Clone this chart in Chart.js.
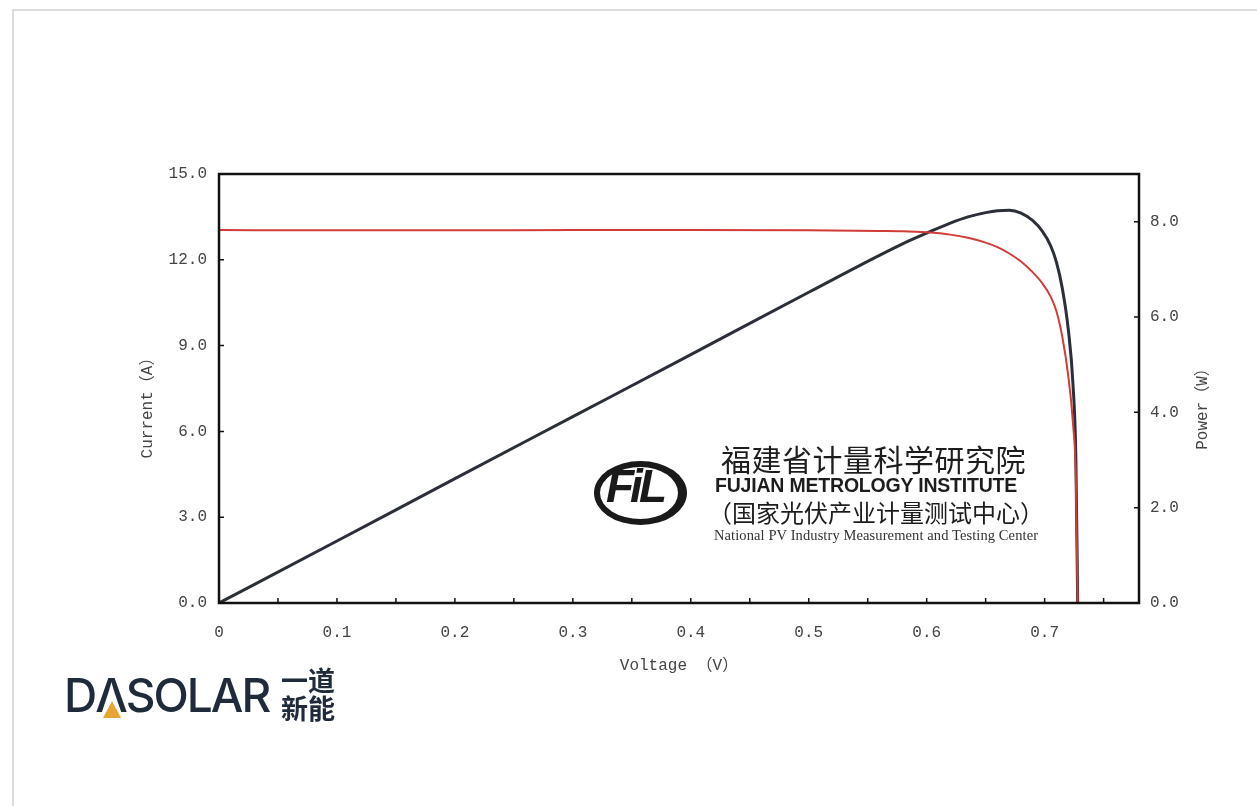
<!DOCTYPE html>
<html>
<head>
<meta charset="utf-8">
<script src="https://cdn.jsdelivr.net/npm/chart.js@4/dist/chart.umd.min.js"></script>
<style>
  body { margin: 0; background: #fff; }
  #wrap { position: relative; width: 1257px; height: 806px; overflow: hidden; }
  #frame { position: absolute; left: 12px; top: 9px; width: 1300px; height: 900px;
           border-left: 2px solid #dcdcdc; border-top: 2px solid #dcdcdc; }
  canvas { position: absolute; left: 0; top: 0; }
  .mark { position: absolute; color: #1d1d1d; white-space: nowrap; pointer-events: none; }
  #fil { position: absolute; left: 594px; top: 461px; width: 78px; height: 52px;
         border: 6px solid #1a1a1a; border-right-width: 9px; border-radius: 50%; }
  #filText { position: absolute; left: 606px; top: 459px; font: italic 900 46px "Liberation Sans", Arial, sans-serif;
             color: #1a1a1a; letter-spacing: -4px; }
  #cn1 { left: 721px; top: 436px; font: 30px "Noto Sans CJK SC"; letter-spacing: 0.5px; }
  #en1 { left: 715px; top: 474px; font: bold 19.5px "Liberation Sans", Arial, sans-serif; letter-spacing: -0.2px; }
  #cn2 { left: 708px; top: 494px; font: 24px "Noto Sans CJK SC"; }
  #en2 { left: 714px; top: 527px; font: 14.5px "Liberation Serif", serif; color: #333; letter-spacing: 0.1px; }
  #da { left: 64px; top: 667px; font: 500 46px "Inter", "Noto Sans", sans-serif; color: #1f2b3b; letter-spacing: -2px; }
  #tri { position: absolute; left: 103px; top: 701px; width: 0; height: 0;
         border-left: 9px solid transparent; border-right: 9px solid transparent; border-bottom: 17px solid #e7a534; }
  #yd { left: 281px; top: 666px; font: bold 27px "Noto Sans CJK SC"; color: #1f2b3b; line-height: 28px; }
</style>
</head>
<body>
<div id="wrap">
  <div id="frame"></div>
  <canvas id="myChart" width="1257" height="806"></canvas>
  <div id="fil"></div>
  <div id="filText" class="mark">FiL</div>
  <div id="cn1" class="mark">福建省计量科学研究院</div>
  <div id="en1" class="mark">FUJIAN METROLOGY INSTITUTE</div>
  <div id="cn2" class="mark">（国家光伏产业计量测试中心）</div>
  <div id="en2" class="mark">National PV Industry Measurement and Testing Center</div>
  <div id="da" class="mark">DΛSOLAR</div>
  <div id="tri"></div>
  <div id="yd" class="mark">一道<br>新能</div>
</div>
<script>
// I-V curve (red)
var ivVoltage = [0, 0.1, 0.2, 0.3, 0.4, 0.5, 0.56, 0.58, 0.6, 0.62, 0.635, 0.65, 0.66, 0.67, 0.68, 0.69, 0.698, 0.705, 0.71, 0.715, 0.72, 0.724, 0.7265, 0.728];
var ivCurrent = [13.04, 13.03, 13.03, 13.04, 13.04, 13.03, 13.01, 13.0, 12.96, 12.88, 12.77, 12.6, 12.44, 12.22, 11.94, 11.56, 11.18, 10.72, 10.2, 9.3, 7.95, 6.3, 4.3, 0];

// P-V curve (black)
var pvVoltage = [0, 0.1, 0.2, 0.3, 0.4, 0.5, 0.58, 0.6, 0.62, 0.635, 0.65, 0.66, 0.67, 0.68, 0.69, 0.698, 0.705, 0.71, 0.715, 0.72, 0.724, 0.7265, 0.728];
var pvPower = [0, 1.3, 2.61, 3.91, 5.21, 6.52, 7.54, 7.76, 7.97, 8.1, 8.19, 8.23, 8.24, 8.18, 8.02, 7.8, 7.5, 7.15, 6.6, 5.75, 4.6, 3.0, 0];

// tick labels
var xTicks = [0, 0.1, 0.2, 0.3, 0.4, 0.5, 0.6, 0.7];
var xTickMarks = [0.05, 0.1, 0.15, 0.2, 0.25, 0.3, 0.35, 0.4, 0.45, 0.5, 0.55, 0.6, 0.65, 0.7, 0.75];
var currentTicks = [0, 3, 6, 9, 12, 15];
var powerTicks = [0, 2, 4, 6, 8];

var mono = '"Liberation Mono", "Noto Sans CJK SC", monospace';

function toXY(xs, ys) {
  return xs.map(function (v, i) { return { x: v, y: ys[i] }; });
}

function vText(ctx, text, x, y) {
  ctx.save();
  ctx.translate(x, y);
  ctx.rotate(-Math.PI / 2);
  ctx.fillStyle = '#444';
  ctx.font = '16px ' + mono;
  ctx.textAlign = 'center';
  ctx.textBaseline = 'middle';
  ctx.fillText(text, 0, 0);
  ctx.restore();
}

var frameAndTicks = {
  id: 'frameAndTicks',
  afterDraw: function (chart) {
    var ctx = chart.ctx, a = chart.chartArea, s = chart.scales;
    ctx.save();
    ctx.strokeStyle = '#111';
    ctx.lineWidth = 1.5;
    ctx.beginPath();
    xTickMarks.forEach(function (v) {
      var px = s.x.getPixelForValue(v);
      ctx.moveTo(px, a.bottom); ctx.lineTo(px, a.bottom - 5);
    });
    currentTicks.forEach(function (v) {
      var py = s.yI.getPixelForValue(v);
      ctx.moveTo(a.left, py); ctx.lineTo(a.left + 5, py);
    });
    powerTicks.forEach(function (v) {
      var py = s.yP.getPixelForValue(v);
      ctx.moveTo(a.right, py); ctx.lineTo(a.right - 5, py);
    });
    ctx.stroke();
    ctx.lineWidth = 2.5;
    ctx.strokeRect(a.left, a.top, a.width, a.height);
    ctx.restore();

    // axis titles, both reading bottom to top
    vText(ctx, 'Current（A）', 148, 404);
    vText(ctx, 'Power（W）', 1203, 405);
  }
};

Chart.defaults.font.family = mono;
Chart.defaults.font.size = 16;
Chart.defaults.color = '#444';

var ctx = document.getElementById('myChart');

var myChart = new Chart(ctx, {
  type: 'line',
  data: {
    datasets: [{
      label: 'Current',
      data: toXY(ivVoltage, ivCurrent),
      yAxisID: 'yI',
      borderColor: '#d23c38',
      borderWidth: 2,
      pointRadius: 0,
      cubicInterpolationMode: 'monotone'
    }, {
      label: 'Power',
      data: toXY(pvVoltage, pvPower),
      yAxisID: 'yP',
      borderColor: '#2b2f38',
      borderWidth: 3,
      pointRadius: 0,
      cubicInterpolationMode: 'monotone'
    }]
  },
  options: {
    responsive: false,
    animation: false,
    layout: { padding: { top: 174, left: 0, right: 0, bottom: 0 } },
    plugins: { legend: { display: false }, tooltip: { enabled: false } },
    scales: {
      x: {
        type: 'linear',
        min: 0,
        max: 0.78,
        afterBuildTicks: function (s) { s.ticks = xTicks.map(function (v) { return { value: v }; }); },
        afterFit: function (s) { s.height = 203; },
        grid: { display: false, drawTicks: false },
        border: { display: false },
        ticks: {
          padding: 20,
          maxRotation: 0,
          callback: function (v) { return v === 0 ? '0' : v.toFixed(1); }
        },
        title: { display: true, text: 'Voltage （V）', padding: { top: 0, bottom: 131 } }
      },
      yI: {
        position: 'left',
        min: 0,
        max: 15,
        afterBuildTicks: function (s) { s.ticks = currentTicks.map(function (v) { return { value: v }; }); },
        afterFit: function (s) { s.width = 219; },
        grid: { display: false, drawTicks: false },
        border: { display: false },
        ticks: { padding: 12, callback: function (v) { return v.toFixed(1); } }
      },
      yP: {
        position: 'right',
        min: 0,
        max: 9,
        afterBuildTicks: function (s) { s.ticks = powerTicks.map(function (v) { return { value: v }; }); },
        afterFit: function (s) { s.width = 118; },
        grid: { display: false, drawTicks: false },
        border: { display: false },
        ticks: { padding: 11, callback: function (v) { return v.toFixed(1); } }
      }
    }
  },
  plugins: [frameAndTicks]
});
</script>
</body>
</html>
